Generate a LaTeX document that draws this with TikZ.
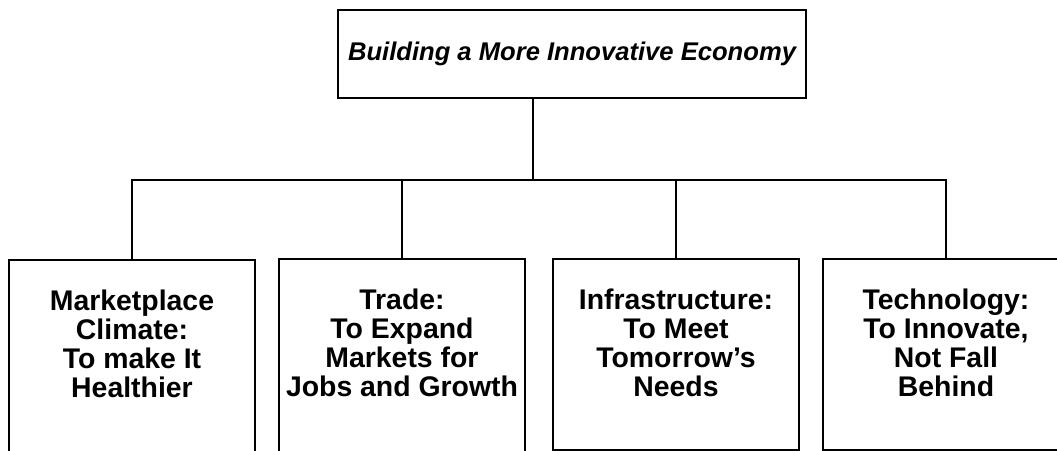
\documentclass[tikz,border=0pt]{standalone}
\usepackage{fontspec}
\setmainfont{Liberation Sans}
\usepackage{tikz}
\newcommand{\boxRule}[0]{1.6pt}
\newcommand{\wireRule}[0]{1.1pt}
\newcommand{\leafFont}[0]{\fontsize{20.2}{20.8}\selectfont\bfseries}

\begin{document}
\begin{tikzpicture}[x=0.025cm, y=-0.025cm]
  \tikzset{headbox/.style={draw, line width=\boxRule, minimum width=11.7cm, minimum height=2.2cm,
      font=\fontsize{18.2}{20}\selectfont\bfseries\itshape},
    leafbox/.style={draw, line width=\boxRule, anchor=north, minimum width=6.15cm, minimum height=4.775cm},
    leaftext/.style={align=center, font=\leafFont},
    wire/.style={line width=\wireRule}}
  \clip (0,0) rectangle (1057,451);

  \node[headbox] (head) at (572,54) {Building a More Innovative Economy};

  % the four leaf boxes, the first two run off the page
  \node[leafbox, minimum height=5.5cm] (climate) at (132,259) {};
  \node[leafbox, minimum height=5.5cm] (trade) at (402,258) {};
  \node[leafbox] (infra) at (676,258) {};
  \node[leafbox] (tech) at (946,258) {};

  \node[leaftext] (climate-t) at ([yshift=-2.12cm]climate.north) {Marketplace\\Climate:\\To make It\\Healthier};
  \node[leaftext] (trade-t) at ([yshift=-2.12cm]trade.north) {Trade:\\To Expand\\Markets for\\Jobs and Growth};
  \node[leaftext] (infra-t) at ([yshift=-2.12cm]infra.north) {Infrastructure:\\To Meet\\Tomorrow's\\Needs};
  \node[leaftext] (tech-t) at ([yshift=-2.12cm]tech.north) {Technology:\\To Innovate,\\Not Fall\\Behind};

  \coordinate (fork) at (533,180);
  \draw[wire] (head.south -| fork) -- (fork);
  \foreach \leaf in {climate, trade, infra, tech}
    \draw[wire] (fork) -| (\leaf.north);
\end{tikzpicture}
\end{document}
